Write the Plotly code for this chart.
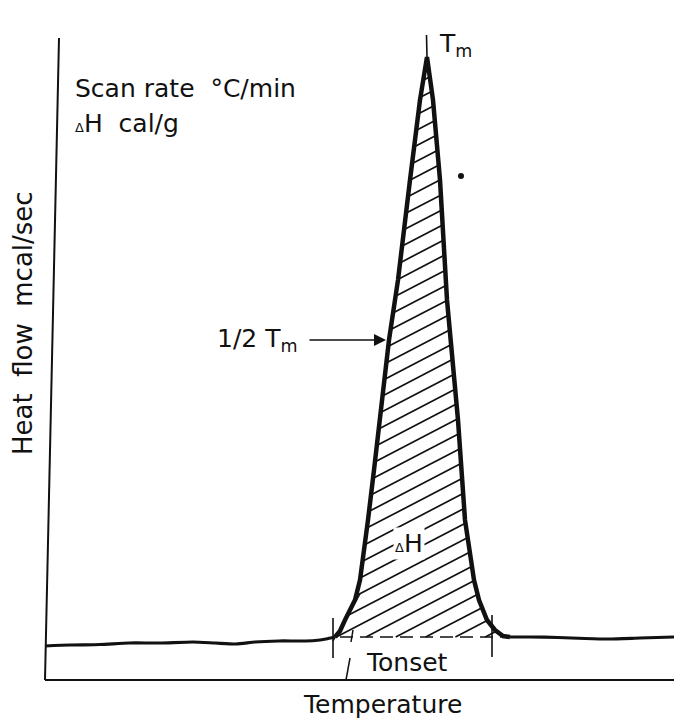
import numpy as np
import plotly.graph_objects as go

# ---- data (temperature / heat-flow, arbitrary units) ----
base_left_T = [0, 25, 55, 84, 115, 148, 170, 191, 210, 234, 255, 270, 281, 290]
base_left_H = [34, 35, 35.5, 37, 37, 38, 37, 36, 38, 39, 39, 39.5, 41, 43]

peak_T = [290, 295, 300, 305, 310, 315, 318, 323, 329, 335, 344, 350, 353, 365, 375, 382,
          388, 395, 400, 402, 413, 420, 426, 429, 434, 442, 450, 458, 465]
peak_H = [43, 49, 60, 70, 80, 100, 120, 160, 210, 260, 340, 380, 400, 500, 580, 623,
          580, 500, 400, 380, 260, 160, 120, 100, 80, 60, 50, 44, 43]

base_right_T = [465, 485, 513, 540, 564, 595, 629]
base_right_H = [43, 43, 42.5, 41.5, 41, 42, 43]

peak_base_H = 43
hatch_from, hatch_to = 295, 456
Tm = 382
onset_left_T, onset_right_T = 288, 447
stray_dot = (416, 504)

# ---- figure ----
fig = go.Figure()

# hatch lines inside the peak
pT = np.array(peak_T, float)
pH = np.array(peak_H, float)
slope = 0.52
spacing = 15.5
hx, hy = [], []
Ts = np.linspace(peak_T[0], peak_T[-1], 4000)
Hpk = np.interp(Ts, pT, pH)
for c in np.arange(peak_base_H - slope * 470, 700, spacing):
    Hl = c + slope * Ts
    inside = (Hl <= Hpk - 1.5) & (Hl >= peak_base_H)
    if not inside.any():
        continue
    idx = np.where(inside)[0]
    splits = np.where(np.diff(idx) > 1)[0] + 1
    for run in np.split(idx, splits):
        if len(run) < 2:
            continue
        hx += [Ts[run[0]], Ts[run[-1]], None]
        hy += [Hl[run[0]], Hl[run[-1]], None]

fig.add_trace(go.Scatter(x=hx, y=hy, mode="lines",
                         line=dict(color="#111", width=1.7), hoverinfo="skip"))

# dashed bottom of hatched area
fig.add_trace(go.Scatter(x=[hatch_from, hatch_to], y=[peak_base_H, peak_base_H], mode="lines",
                         line=dict(color="#111", width=1.7, dash="13px,7px"), hoverinfo="skip"))

# baseline
fig.add_trace(go.Scatter(x=base_left_T, y=base_left_H, mode="lines",
                         line=dict(color="#111", width=3.2, shape="spline", smoothing=0.6)))
fig.add_trace(go.Scatter(x=base_right_T, y=base_right_H, mode="lines",
                         line=dict(color="#111", width=3.2, shape="spline", smoothing=0.6)))
# peak outline
fig.add_trace(go.Scatter(x=peak_T, y=peak_H, mode="lines",
                         line=dict(color="#111", width=4.5)))

# Tm tick above apex
fig.add_trace(go.Scatter(x=[Tm, Tm - 0.5], y=[peak_H[15], 645], mode="lines",
                         line=dict(color="#111", width=1.6)))
# onset ticks
fig.add_trace(go.Scatter(x=[onset_left_T, onset_left_T, None, onset_right_T, onset_right_T],
                         y=[62, 22, None, 65, 23], mode="lines",
                         line=dict(color="#111", width=1.6)))
# tangent + small tick + Tonset pointer
fig.add_trace(go.Scatter(x=[288, 315, None, 306, 308, None, 305, 301],
                         y=[39, 86, None, 38, 50, None, 22, 0], mode="lines",
                         line=dict(color="#111", width=1.5)))
# stray dot
fig.add_trace(go.Scatter(x=[stray_dot[0]], y=[stray_dot[1]], mode="markers",
                         marker=dict(color="#111", size=6, symbol="circle")))

# axes lines
fig.add_shape(type="line", x0=14, y0=642, x1=0, y1=0, line=dict(color="#111", width=2))
fig.add_shape(type="line", x0=0, y0=0, x1=629, y1=0, line=dict(color="#111", width=2))

FONT = "DejaVu Sans"
tc = "#111"
ann = [
    dict(x=28, y=592, text="Scan rate  °C/min", xanchor="left", size=25),
    dict(x=28, y=557, text="<span style='font-size:13px'>Δ</span>H  cal/g", xanchor="left", size=25),
    dict(x=392, y=635, text="T<sub>m</sub>", xanchor="left", size=25),
    dict(x=255, y=340, text="1/2 T<sub>m</sub>", xanchor="right", size=25),
    dict(x=364, y=137, text="<span style='font-size:13px'>Δ</span>H", xanchor="center", size=25, bg=True),
    dict(x=362, y=18, text="Tonset", xanchor="center", size=25),
    dict(x=337, y=-24, text="Temperature", xanchor="center", size=25),
]
for a in ann:
    fig.add_annotation(x=a["x"], y=a["y"], text=a["text"], xanchor=a["xanchor"], yanchor="middle",
                       showarrow=False, font=dict(family=FONT, size=a["size"], color=tc),
                       bgcolor="white" if a.get("bg") else None, borderpad=1)
fig.add_annotation(x=-22, y=357, text="Heat  flow  mcal/sec", textangle=-90, showarrow=False,
                   font=dict(family=FONT, size=26, color=tc), xanchor="center", yanchor="middle")
# 1/2 Tm arrow
fig.add_annotation(x=341, y=340, ax=263, ay=340, xref="x", yref="y", axref="x", ayref="y",
                   text="", showarrow=True, arrowhead=2, arrowsize=1.6, arrowwidth=1.5, arrowcolor=tc)

fig.update_layout(
    width=674, height=719, margin=dict(l=0, r=0, t=0, b=0),
    paper_bgcolor="white", plot_bgcolor="white", showlegend=False,
    xaxis=dict(range=[-45, 629], visible=False, fixedrange=True),
    yaxis=dict(range=[-39, 680], visible=False, fixedrange=True),
)
fig.write_html("out.html")
